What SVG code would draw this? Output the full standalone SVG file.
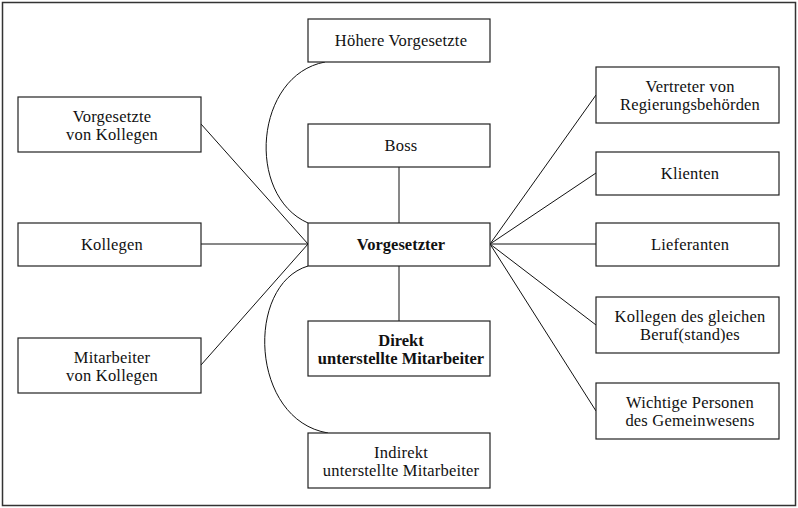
<svg xmlns="http://www.w3.org/2000/svg" width="798" height="508" viewBox="0 0 798 508">
<style>
.box{fill:#fff;stroke:#222;stroke-width:1.2}
.t{font-family:"Liberation Serif","Times New Roman",serif;font-size:16.5px;letter-spacing:0.2px;fill:#111;text-anchor:middle}
.b{font-weight:bold;letter-spacing:0}
.c{fill:none;stroke:#111;stroke-width:1}
</style>
<rect x="2.5" y="2.5" width="793" height="503" fill="#fff" stroke="#333" stroke-width="1.5"/>
<g id="connectors">
<path class="c" d="M325,62 C255,75 245,195 308,223"/>
<path class="c" d="M308,266 C245,285 250,420 328,433"/>
<line class="c" x1="399" y1="167" x2="399" y2="223"/>
<line class="c" x1="399" y1="266" x2="399" y2="321"/>
<line class="c" x1="201" y1="124" x2="308" y2="244"/>
<line class="c" x1="201" y1="244" x2="308" y2="244"/>
<line class="c" x1="201" y1="365" x2="308" y2="244"/>
<line class="c" x1="490" y1="244" x2="596" y2="95"/>
<line class="c" x1="490" y1="244" x2="596" y2="173"/>
<line class="c" x1="490" y1="244" x2="596" y2="244"/>
<line class="c" x1="490" y1="244" x2="596" y2="325"/>
<line class="c" x1="490" y1="244" x2="596" y2="411"/>
</g>
<g id="hoehere"><rect class="box" x="308" y="19" width="182" height="43"/><text class="t" x="401" y="46">Höhere Vorgesetzte</text></g>
<g id="boss"><rect class="box" x="308" y="124" width="182" height="43"/><text class="t" x="401" y="151">Boss</text></g>
<g id="vorgesetzter"><rect class="box" x="308" y="223" width="182" height="43"/><text class="t b" x="401" y="250">Vorgesetzter</text></g>
<g id="direkt"><rect class="box" x="308" y="321" width="182" height="55"/><text class="t b" x="401" y="345.5">Direkt</text><text class="t b" x="401" y="363.5">unterstellte Mitarbeiter</text></g>
<g id="indirekt"><rect class="box" x="308" y="433" width="182" height="55"/><text class="t" x="401" y="457.5">Indirekt</text><text class="t" x="401" y="475.5">unterstellte Mitarbeiter</text></g>
<g id="vgk"><rect class="box" x="18" y="97" width="183" height="55"/><text class="t" x="112" y="121.5">Vorgesetzte</text><text class="t" x="112" y="139.5">von Kollegen</text></g>
<g id="kollegen"><rect class="box" x="18" y="223" width="183" height="43"/><text class="t" x="112" y="250">Kollegen</text></g>
<g id="mak"><rect class="box" x="18" y="338" width="183" height="55"/><text class="t" x="112" y="362.5">Mitarbeiter</text><text class="t" x="112" y="380.5">von Kollegen</text></g>
<g id="vertreter"><rect class="box" x="596" y="67" width="183" height="56"/><text class="t" x="690" y="92">Vertreter von</text><text class="t" x="690" y="110">Regierungsbehörden</text></g>
<g id="klienten"><rect class="box" x="596" y="152" width="183" height="43"/><text class="t" x="690" y="179">Klienten</text></g>
<g id="lieferanten"><rect class="box" x="596" y="223" width="183" height="43"/><text class="t" x="690" y="250">Lieferanten</text></g>
<g id="kdg"><rect class="box" x="596" y="297" width="183" height="56"/><text class="t" x="690" y="322">Kollegen des gleichen</text><text class="t" x="690" y="340">Beruf(stand)es</text></g>
<g id="wichtige"><rect class="box" x="596" y="383" width="183" height="56"/><text class="t" x="690" y="408">Wichtige Personen</text><text class="t" x="690" y="426">des Gemeinwesens</text></g>
</svg>
